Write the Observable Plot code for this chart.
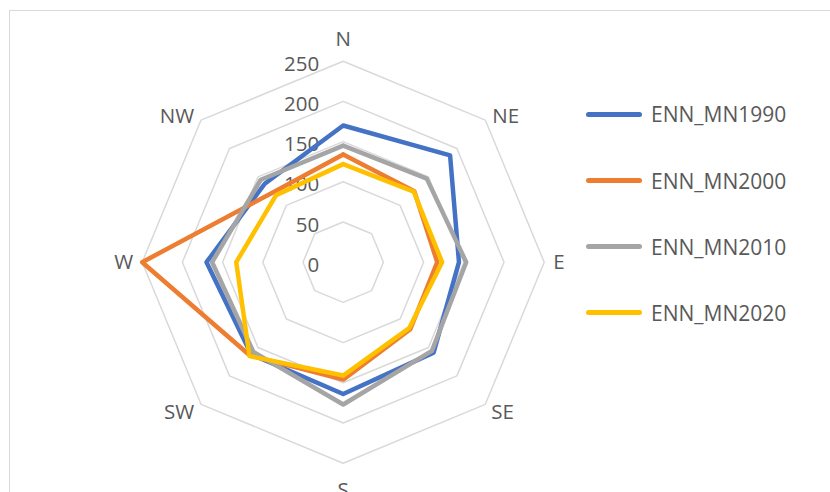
<!DOCTYPE html>
<html>
<head>
<meta charset="utf-8">
<script src="https://cdn.jsdelivr.net/npm/d3@7"></script>
<script src="https://cdn.jsdelivr.net/npm/@observablehq/plot@0.6"></script>
<style>
  html, body { margin: 0; padding: 0; background: #fff; }
  #wrap { position: relative; width: 830px; height: 492px; overflow: hidden; font-family: "Open Sans", sans-serif; }
  #frame { position: absolute; left: 9px; top: 10px; width: 900px; height: 600px; border: 1px solid #d9d9d9; box-sizing: border-box; }
  #chart { position: absolute; left: 0; top: 0; }
  #legend { position: absolute; left: 0; top: 0; }
  .item { position: absolute; left: 586px; display: flex; align-items: center; height: 30px; }
  .swatch { width: 56px; height: 5px; border-radius: 3px; }
  .lab { margin-left: 9px; font-size: 21px; color: #595959; white-space: nowrap; }
</style>
</head>
<body>
<div id="wrap"><div id="frame"></div><div id="chart"></div><div id="legend"></div></div>
<script>
const directions = ["N", "NE", "E", "SE", "S", "SW", "W", "NW"];
const ringValues = [50, 100, 150, 200, 250];
const tickLabels = [0, 50, 100, 150, 200, 250];
const seriesNames = ["ENN_MN1990", "ENN_MN2000", "ENN_MN2010", "ENN_MN2020"];
const seriesColors = ["#4472C4", "#ED7D31", "#A5A5A5", "#FFC000"];
const ENN_MN1990 = [170, 188, 144, 159, 164, 162, 170, 138];
const ENN_MN2000 = [134, 125, 117, 118, 146, 164, 250, 123];
const ENN_MN2010 = [145, 147, 153, 156, 177, 158, 163, 145];
const ENN_MN2020 = [122, 124, 123, 116, 141, 165, 133, 118];
const seriesValues = [ENN_MN1990, ENN_MN2000, ENN_MN2010, ENN_MN2020];

const ang = i => i * Math.PI / 4;
const px = (r, i) => r * Math.sin(ang(i));
const py = (r, i) => r * Math.cos(ang(i));

// closed polygons
const ringPts = ringValues.flatMap(r => d3.range(9).map(k => ({r, i: k % 8})));
const seriesPts = seriesNames.flatMap((s, si) => d3.range(9).map(k => ({s, i: k % 8, v: seriesValues[si][k % 8]})));
const dirs = directions.map((d, i) => ({d, i}));

const C = 342.7, CY = 261.7, R = 201;
const font = "Open Sans, sans-serif";
const fs = 20.5;

const plot = Plot.plot({
  width: 830, height: 492,
  margin: 0,
  style: {fontFamily: font, background: "transparent", overflow: "visible"},
  x: {type: "linear", domain: [-250, 250], range: [C - R, C + R], axis: null},
  y: {type: "linear", domain: [-250, 250], range: [CY + R, CY - R], axis: null},
  color: {domain: seriesNames, range: seriesColors},
  marks: [
    Plot.line(ringPts, {x: d => px(d.r, d.i), y: d => py(d.r, d.i), z: "r", stroke: "#d9d9d9", strokeWidth: 1.5, curve: "linear"}),
    Plot.text(tickLabels, {x: 0, y: d => d, text: d => String(d), textAnchor: "end", dx: -24, dy: 3, fontSize: fs, fill: "#595959"}),
    Plot.line(seriesPts, {x: d => px(d.v, d.i), y: d => py(d.v, d.i), z: "s", stroke: "s", strokeWidth: 4.5, strokeLinejoin: "round", curve: "linear"}),
    Plot.text(dirs.filter(d => d.d === "N"), {x: d => px(250, d.i), y: d => py(250, d.i), text: "d", dy: -22, fontSize: fs, fill: "#595959"}),
    Plot.text(dirs.filter(d => d.d === "S"), {x: d => px(250, d.i), y: d => py(250, d.i), text: "d", dy: 27, fontSize: fs, fill: "#595959"}),
    Plot.text(dirs.filter(d => d.d === "E"), {x: d => px(250, d.i), y: d => py(250, d.i), text: "d", dx: 9, textAnchor: "start", fontSize: fs, fill: "#595959"}),
    Plot.text(dirs.filter(d => d.d === "W"), {x: d => px(250, d.i), y: d => py(250, d.i), text: "d", dx: -9, textAnchor: "end", fontSize: fs, fill: "#595959"}),
    Plot.text(dirs.filter(d => d.d === "NE"), {x: d => px(250, d.i), y: d => py(250, d.i), text: "d", dx: 7, dy: -4, textAnchor: "start", fontSize: fs, fill: "#595959"}),
    Plot.text(dirs.filter(d => d.d === "SE"), {x: d => px(250, d.i), y: d => py(250, d.i), text: "d", dx: 6, dy: 8, textAnchor: "start", fontSize: fs, fill: "#595959"}),
    Plot.text(dirs.filter(d => d.d === "NW"), {x: d => px(250, d.i), y: d => py(250, d.i), text: "d", dx: -7, dy: -4, textAnchor: "end", fontSize: fs, fill: "#595959"}),
    Plot.text(dirs.filter(d => d.d === "SW"), {x: d => px(250, d.i), y: d => py(250, d.i), text: "d", dx: -7, dy: 8, textAnchor: "end", fontSize: fs, fill: "#595959"})
  ]
});
document.getElementById("chart").appendChild(plot);

const legendY = [114.3, 180.7, 246.7, 312.7];
const leg = document.getElementById("legend");
seriesNames.forEach((s, i) => {
  const it = document.createElement("div");
  it.className = "item";
  it.style.top = (legendY[i] - 15) + "px";
  it.innerHTML = `<div class="swatch" style="background:${seriesColors[i]}"></div><div class="lab">${s}</div>`;
  leg.appendChild(it);
});
</script>
</body>
</html>
